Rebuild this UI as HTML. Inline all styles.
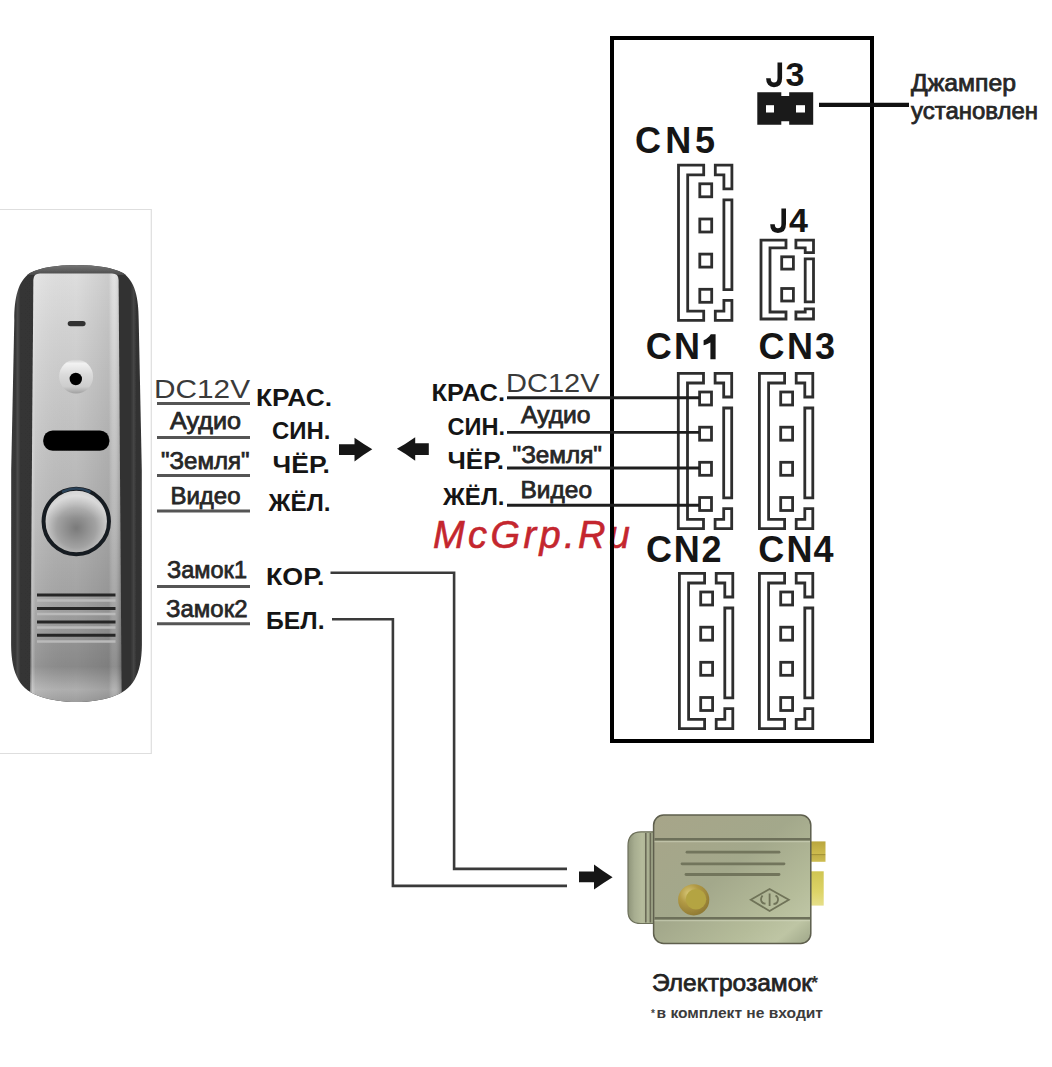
<!DOCTYPE html>
<html><head><meta charset="utf-8">
<style>
html,body{margin:0;padding:0;background:#fff;}
body{width:1052px;height:1067px;overflow:hidden;position:relative;}
svg{position:absolute;left:0;top:0;}
text{font-family:"Liberation Sans",sans-serif;}
.rg{fill:#262626;font-size:23px;stroke:#262626;stroke-width:0.75px;}
.bd{fill:#151515;font-size:24px;font-weight:bold;}
.cn{fill:#151515;font-size:36px;font-weight:bold;}
</style></head>
<body>
<svg width="1052" height="1067" viewBox="0 0 1052 1067">
<defs>
  <g id="con4" fill="none" stroke="#2e2e2e" stroke-width="2.8" stroke-linejoin="miter">
    <path d="M0,0 H25.2 V9.7 H9.2 V146 H25.2 V155.3 H0 Z"/>
    <path d="M36.8,0 H53.4 V23.7 H45.4 V9.7 H36.8 Z"/>
    <path d="M45.4,34.7 H53.4 V124.5 H45.4 Z"/>
    <path d="M53.4,135.3 V155.3 H36.8 V146 H45.4 V135.3 Z"/>
    <rect x="21.3" y="18.7" width="11.9" height="13"/>
    <rect x="21.3" y="53.9" width="11.9" height="13"/>
    <rect x="21.3" y="89" width="11.9" height="13"/>
    <rect x="21.3" y="124.2" width="11.9" height="13"/>
  </g>
</defs>

<!-- doorbell frame -->
<path d="M0,209.5 H151.3 V753.5 H0" fill="none" stroke="#dedede" stroke-width="1.2"/>

<defs><filter id="soft" x="-5%" y="-5%" width="110%" height="110%"><feGaussianBlur stdDeviation="0.45"/></filter></defs>
<g filter="url(#soft)">
<!-- doorbell -->
<defs>
  <linearGradient id="dbSide" x1="0" y1="0" x2="1" y2="0">
    <stop offset="0" stop-color="#7a7a7a"/>
    <stop offset="0.018" stop-color="#3e3e3e"/>
    <stop offset="0.1" stop-color="#363636"/>
    <stop offset="0.115" stop-color="#4c4c4c"/>
    <stop offset="0.135" stop-color="#343434"/>
    <stop offset="0.86" stop-color="#323232"/>
    <stop offset="0.88" stop-color="#464646"/>
    <stop offset="0.9" stop-color="#303030"/>
    <stop offset="0.98" stop-color="#3c3c3c"/>
    <stop offset="1" stop-color="#7a7a7a"/>
  </linearGradient>
  <linearGradient id="dbRim" x1="0" y1="0" x2="0" y2="1">
    <stop offset="0" stop-color="#7a7a7a"/>
    <stop offset="0.5" stop-color="#626262"/>
    <stop offset="1" stop-color="#4a4a4a"/>
  </linearGradient>
  <linearGradient id="dbPanelV" x1="0" y1="0" x2="0" y2="1">
    <stop offset="0" stop-color="#e2e2e2"/>
    <stop offset="0.13" stop-color="#d6d6d6"/>
    <stop offset="0.34" stop-color="#c6c6c6"/>
    <stop offset="0.575" stop-color="#b6b6b6"/>
    <stop offset="0.74" stop-color="#a6a6a6"/>
    <stop offset="0.9" stop-color="#8c8c8c"/>
    <stop offset="0.953" stop-color="#b2b2b2"/>
    <stop offset="1" stop-color="#959595"/>
  </linearGradient>
  <linearGradient id="dbPanelH" x1="0" y1="0" x2="1" y2="0">
    <stop offset="0" stop-color="#000" stop-opacity="0.1"/>
    <stop offset="0.025" stop-color="#fff" stop-opacity="0.3"/>
    <stop offset="0.06" stop-color="#fff" stop-opacity="0.08"/>
    <stop offset="0.5" stop-color="#000" stop-opacity="0.02"/>
    <stop offset="0.86" stop-color="#000" stop-opacity="0.1"/>
    <stop offset="0.92" stop-color="#fff" stop-opacity="0.02"/>
    <stop offset="0.97" stop-color="#000" stop-opacity="0.1"/>
    <stop offset="1" stop-color="#000" stop-opacity="0.25"/>
  </linearGradient>
  <radialGradient id="dbBtn" cx="0.5" cy="0.6" r="0.55">
    <stop offset="0" stop-color="#7a7a7a"/>
    <stop offset="0.55" stop-color="#a2a2a2"/>
    <stop offset="0.9" stop-color="#d0d0d0"/>
    <stop offset="1" stop-color="#c4c4c4"/>
  </radialGradient>
  <linearGradient id="dbBtnTop" x1="0" y1="0" x2="0" y2="1">
    <stop offset="0" stop-color="#fff" stop-opacity="0.35"/>
    <stop offset="0.45" stop-color="#fff" stop-opacity="0"/>
  </linearGradient>
  <linearGradient id="dbCam" x1="0" y1="0" x2="0" y2="1">
    <stop offset="0" stop-color="#cfcfcf"/>
    <stop offset="0.12" stop-color="#f2f2f2"/>
    <stop offset="0.45" stop-color="#dadada"/>
    <stop offset="0.8" stop-color="#cdcdcd"/>
    <stop offset="1" stop-color="#a0a0a0"/>
  </linearGradient>
  <clipPath id="dbClip"><path id="dbBody" d="M14.3,320 C14.3,298 18,281 30,273 C41,267.5 56,265.2 76.5,265 C97,265.2 112,267.5 123,273 C135,281 138.7,298 138.7,320 L141.8,470 L141.9,645 C141.5,675 133,690 111.5,697 C100,700.5 90,702 76.5,702 C63,702 53,700.5 41.5,697 C20,690 11.5,675 11.1,645 L11.2,470 Z"/></clipPath>
</defs>
<g clip-path="url(#dbClip)">
  <rect x="0" y="260" width="152" height="450" fill="url(#dbSide)"/>
  <rect x="0" y="264" width="152" height="11" fill="url(#dbRim)"/>
  <path d="M33.4,280 Q33.5,273.6 40,273.6 H112 Q118.5,273.6 118.6,280 L121.7,710 H30 Z" fill="url(#dbPanelV)"/>
  <path d="M33.4,280 Q33.5,273.6 40,273.6 H112 Q118.5,273.6 118.6,280 L121.7,710 H30 Z" fill="url(#dbPanelH)"/>
</g>
<rect x="67.7" y="320.9" width="17.9" height="5.4" rx="2.7" fill="#333"/>
<circle cx="76.1" cy="376.5" r="17" fill="url(#dbCam)"/>
<circle cx="75.8" cy="379" r="6.2" fill="#050505"/>
<rect x="43.2" y="430.5" width="66.2" height="20.3" rx="9.5" fill="#060606"/>
<circle cx="76.25" cy="521.5" r="32.7" fill="url(#dbBtn)"/>
<circle cx="76.25" cy="521.5" r="32.7" fill="url(#dbBtnTop)" stroke="#191c20" stroke-width="4"/>
<path d="M62,492 A32.7,32.7 0 0 1 90.5,492" fill="none" stroke="#2a4258" stroke-width="2.6"/>
<g stroke="#bababa" stroke-width="2.4">
  <line x1="37" y1="600.5" x2="115.5" y2="600.5"/>
  <line x1="37" y1="614" x2="115.5" y2="614"/>
  <line x1="37" y1="627.5" x2="115.5" y2="627.5"/>
  <line x1="37" y1="641.5" x2="115.5" y2="641.5"/>
</g>
<g stroke="#262626" stroke-width="3">
  <line x1="37" y1="595" x2="115.5" y2="595"/>
  <line x1="37" y1="608.5" x2="115.5" y2="608.5"/>
  <line x1="37" y1="622" x2="115.5" y2="622"/>
  <line x1="37" y1="635.2" x2="115.5" y2="635.2"/>
</g>

</g>
<g filter="url(#soft)">
<!-- lock -->
<defs>
  <linearGradient id="lkBody" x1="0" y1="0" x2="1" y2="1">
    <stop offset="0" stop-color="#a7a589"/>
    <stop offset="0.45" stop-color="#a3a88b"/>
    <stop offset="0.75" stop-color="#b5bc9a"/>
    <stop offset="0.88" stop-color="#bec5a4"/>
    <stop offset="1" stop-color="#9ea688"/>
  </linearGradient>
  <linearGradient id="lkFl" x1="0" y1="0" x2="1" y2="0">
    <stop offset="0" stop-color="#8e9479"/>
    <stop offset="0.25" stop-color="#a7ad90"/>
    <stop offset="0.55" stop-color="#b6bc9c"/>
    <stop offset="1" stop-color="#9ea487"/>
  </linearGradient>
  <linearGradient id="lkGoldA" x1="0" y1="0" x2="0" y2="1">
    <stop offset="0" stop-color="#b9a63e"/>
    <stop offset="0.6" stop-color="#cdbb4e"/>
    <stop offset="0.62" stop-color="#9a8a30"/>
    <stop offset="0.7" stop-color="#c2b048"/>
    <stop offset="1" stop-color="#cdbd52"/>
  </linearGradient>
  <linearGradient id="lkGoldB" x1="0" y1="0" x2="0" y2="1">
    <stop offset="0" stop-color="#cfc552"/>
    <stop offset="0.6" stop-color="#ddd468"/>
    <stop offset="1" stop-color="#e6df8a"/>
  </linearGradient>
  <radialGradient id="lkBtn" cx="0.35" cy="0.3" r="0.8">
    <stop offset="0" stop-color="#d8c878"/>
    <stop offset="0.4" stop-color="#b29a45"/>
    <stop offset="1" stop-color="#8a7430"/>
  </radialGradient>
</defs>
<rect x="811" y="841.4" width="14.5" height="20.4" fill="url(#lkGoldA)"/>
<rect x="811" y="871.3" width="12.7" height="34.3" fill="url(#lkGoldB)"/>
<path d="M654,831.8 H641 C632.5,831.8 628,836.5 628,846 V911 C628,919.5 632.5,923.5 641,923.5 H654 Z" fill="url(#lkFl)" stroke="#6d705a" stroke-width="1.2"/>
<line x1="645.8" y1="833" x2="645.8" y2="922.5" stroke="#6a6b57" stroke-width="1.6"/>
<line x1="650.4" y1="833" x2="650.4" y2="922.5" stroke="#6a6b57" stroke-width="1.6"/>
<rect x="653.6" y="815" width="157.2" height="128.5" rx="10" fill="url(#lkBody)" stroke="#5e5f4e" stroke-width="1.5"/>
<g stroke="#6d705a" stroke-width="2.4" fill="none">
  <line x1="654.5" y1="839.2" x2="810" y2="839.2"/>
  <line x1="654.5" y1="918.3" x2="810" y2="918.3"/>
</g>
<g stroke="#d8dcc4" stroke-width="1.2" fill="none" opacity="0.5">
  <line x1="654.5" y1="841.6" x2="810" y2="841.6"/>
  <line x1="654.5" y1="920.7" x2="810" y2="920.7"/>
</g>
<g stroke="#72755c" stroke-width="2.8" fill="none" stroke-linecap="round">
  <line x1="687" y1="852.2" x2="779" y2="852.2"/>
  <line x1="682" y1="863.8" x2="784" y2="863.8"/>
  <line x1="686" y1="874.5" x2="779" y2="874.5"/>
</g>
<circle cx="693.7" cy="899.8" r="15.6" fill="url(#lkBtn)"/>
<circle cx="696" cy="899.3" r="10.3" fill="#b4a442"/>
<g fill="none" stroke="#6f7358" stroke-width="1.8">
  <path d="M750.8,899.8 L769.6,889 L788.8,899.8 L769.6,911 Z"/>
  <path d="M762.5,895.5 C759.5,899.5 761.5,904 765.5,903.5 M769.6,893.5 V906 M775.5,895.5 C779.5,897.5 778.5,904 773.5,904"/>
</g>

</g>
<!-- watermark -->
<text x="433" y="547.6" textLength="197" lengthAdjust="spacing" style="font-size:38px;font-style:italic;fill:#c4262e;stroke:#c4262e;stroke-width:0.6px">McGrp.Ru</text>

<!-- main box -->
<rect x="612" y="38" width="260" height="703" fill="none" stroke="#000" stroke-width="4"/>

<!-- connectors -->
<use href="#con4" transform="translate(678.5,165.1)"/>
<use href="#con4" transform="translate(678.3,373.3)"/>
<use href="#con4" transform="translate(759.4,373.3)"/>
<use href="#con4" transform="translate(679.4,573.3)"/>
<use href="#con4" transform="translate(759.4,573.3)"/>

<!-- connector labels -->
<text class="cn" x="635.0 665.2 694.9" y="152.8">CN5</text>
<text class="cn" x="645.75 673.9" y="359.3">CN</text>
<path d="M710.8,334.2 H715.6 V359.3 H710.4 V342.4 C708.5,343.6 706.3,344.6 703.6,345.2 V340.2 C706.6,338.9 709,336.9 710.8,334.2 Z" fill="#151515"/>
<text class="cn" x="758.6 787.06 815.08" y="359.2">CN3</text>
<text class="cn" x="646.0 673.86 701.54" y="562.4">CN2</text>
<text class="cn" x="758.15 786.41 813.6" y="562.4">CN4</text>
<path d="M779.8,62.4 V78 C779.8,83 777.3,84.9 774,84.9 C770.6,84.9 768.4,82.6 768.4,78.3" fill="none" stroke="#151515" stroke-width="4.6"/>
<text class="cn" x="785.5" y="86.4" style="font-size:34px">3</text>
<path d="M783.7,208.4 V224 C783.7,229 781.2,230.6 777.9,230.6 C774.5,230.6 772.5,228.4 772.5,224.3" fill="none" stroke="#151515" stroke-width="4.6"/>
<text class="cn" x="789.1" y="232.2" style="font-size:34px">4</text>

<!-- J3 jumper -->
<path d="M757.3,92.3 H781.3 V95.9 H789.2 V92.3 H813.2 V124.8 H789.2 V121.2 H781.3 V124.8 H757.3 Z" fill="#1a1a1a"/>
<rect x="766" y="105.2" width="8" height="7.3" fill="#fff"/>
<rect x="796" y="105.2" width="9" height="7.3" fill="#fff"/>
<line x1="819" y1="104.8" x2="909" y2="104.8" stroke="#111" stroke-width="4.2"/>
<text class="rg" x="911" y="91" textLength="105" lengthAdjust="spacingAndGlyphs">Джампер</text>
<text class="rg" x="911" y="119" textLength="127" lengthAdjust="spacingAndGlyphs">установлен</text>

<!-- J4 connector -->
<g fill="none" stroke="#2e2e2e" stroke-width="2.8">
  <path d="M761,240.1 H786 V247.8 H770 V312 H786 V319 H761 Z"/>
  <path d="M795.9,240.1 H813.5 V252.6 H805.2 V247.8 H795.9 Z"/>
  <path d="M805.2,258.9 H813.5 V301.9 H805.2 Z"/>
  <path d="M813.5,308.9 V319 H795.9 V312 H805.2 V308.9 Z"/>
  <rect x="781.7" y="256.8" width="11.7" height="12.3"/>
  <rect x="781.7" y="288.5" width="11.7" height="12.5"/>
</g>

<!-- left labels -->
<g class="lab">
<text class="rg" x="154.0" y="398" textLength="96.0" lengthAdjust="spacingAndGlyphs" style="font-size:25px;fill:#3a3a3a;stroke:none">DC12V</text>
<text class="rg" x="170.0" y="429" textLength="71.0" lengthAdjust="spacingAndGlyphs">Аудио</text>
<text class="rg" x="161" y="469" textLength="88.5" lengthAdjust="spacingAndGlyphs">"Земля"</text>
<text class="rg" x="170.5" y="503.8" textLength="70" lengthAdjust="spacingAndGlyphs">Видео</text>
<text class="rg" x="167" y="578.3" textLength="80" lengthAdjust="spacingAndGlyphs" style="font-size:24.5px">Замок1</text>
<text class="rg" x="166" y="616.9" textLength="81.5" lengthAdjust="spacingAndGlyphs" style="font-size:24.5px">Замок2</text>
</g>
<g stroke="#555" stroke-width="3">
  <line x1="157" y1="403.5" x2="250" y2="403.5"/>
  <line x1="157" y1="437.5" x2="250" y2="437.5"/>
  <line x1="157" y1="475.5" x2="250" y2="475.5"/>
  <line x1="157" y1="511" x2="250" y2="511"/>
  <line x1="157" y1="586.6" x2="250" y2="586.6"/>
  <line x1="157" y1="623.7" x2="250" y2="623.7"/>
</g>
<text class="bd" x="256.0" y="405.6" textLength="76.0" lengthAdjust="spacingAndGlyphs">КРАС.</text>
<text class="bd" x="272.0" y="438.7" textLength="58.5" lengthAdjust="spacingAndGlyphs">СИН.</text>
<text class="bd" x="272.5" y="473" textLength="57.5" lengthAdjust="spacingAndGlyphs">ЧЁР.</text>
<text class="bd" x="268.5" y="511.2" textLength="62" lengthAdjust="spacingAndGlyphs">ЖЁЛ.</text>
<text class="bd" x="266" y="584.5" textLength="58.5" lengthAdjust="spacingAndGlyphs">КОР.</text>
<text class="bd" x="266" y="629.4" textLength="58.5" lengthAdjust="spacingAndGlyphs">БЕЛ.</text>

<!-- arrows -->
<path d="M339,444.2 H354.5 V437.8 Q364.2,444.6 372.3,449.3 Q364.2,454.2 354.5,461.4 V455.1 H339 Z" fill="#161616"/>
<path d="M428.8,443.3 H415.2 V437.3 Q405.5,444.2 396.9,448.8 Q405.5,453.6 415.2,460.8 V455.1 H428.8 Z" fill="#161616"/>
<path d="M579,871.6 H594 V864.6 Q604,872 612.6,877.3 Q604,882.5 594,889.6 V882.3 H579 Z" fill="#161616"/>

<!-- right labels -->
<text class="bd" x="431.5" y="400.8" textLength="73.5" lengthAdjust="spacingAndGlyphs">КРАС.</text>
<text class="bd" x="447.5" y="434.8" textLength="57.5" lengthAdjust="spacingAndGlyphs">СИН.</text>
<text class="bd" x="447.5" y="468.7" textLength="56.5" lengthAdjust="spacingAndGlyphs">ЧЁР.</text>
<text class="bd" x="443.0" y="504.6" textLength="61.5" lengthAdjust="spacingAndGlyphs">ЖЁЛ.</text>
<text class="rg" x="506.0" y="392" textLength="93.5" lengthAdjust="spacingAndGlyphs" style="font-size:25px;fill:#3a3a3a;stroke:none">DC12V</text>
<text class="rg" x="521.0" y="423" textLength="69.5" lengthAdjust="spacingAndGlyphs">Аудио</text>
<text class="rg" x="512.5" y="462.6" textLength="89.5" lengthAdjust="spacingAndGlyphs">"Земля"</text>
<text class="rg" x="520.5" y="498" textLength="71.5" lengthAdjust="spacingAndGlyphs">Видео</text>

<!-- wires -->
<g stroke="#1e1e1e" stroke-width="2.9" fill="none">
  <line x1="507" y1="397.8" x2="699" y2="397.8"/>
  <line x1="507" y1="432.4" x2="699" y2="432.4"/>
  <line x1="507" y1="468" x2="699" y2="468"/>
  <line x1="507" y1="505.3" x2="699" y2="505.3"/>
</g>
<g stroke="#3a3a3a" stroke-width="2.6" fill="none">
  <path d="M330.5,572.7 H454.1 V868.9 H567"/>
  <path d="M332,619.3 H392.9 V885.9 H567"/>
</g>

<!-- lock caption -->
<text class="rg" x="652" y="990.7" textLength="160" lengthAdjust="spacingAndGlyphs" style="font-size:24.5px;fill:#222;stroke:#222">Электрозамок</text>
<text x="811" y="989" style="font-family:'Liberation Sans',sans-serif;font-size:18px;font-weight:bold;fill:#333">*</text>
<text x="651" y="1017" style="font-family:'Liberation Sans',sans-serif;font-size:10px;font-weight:bold;fill:#444">*</text>
<text class="bd" x="656.5" y="1017.8" textLength="166.5" lengthAdjust="spacingAndGlyphs" style="font-size:14px;fill:#3c3c3c">в комплект не входит</text>

</svg>
</body></html>
